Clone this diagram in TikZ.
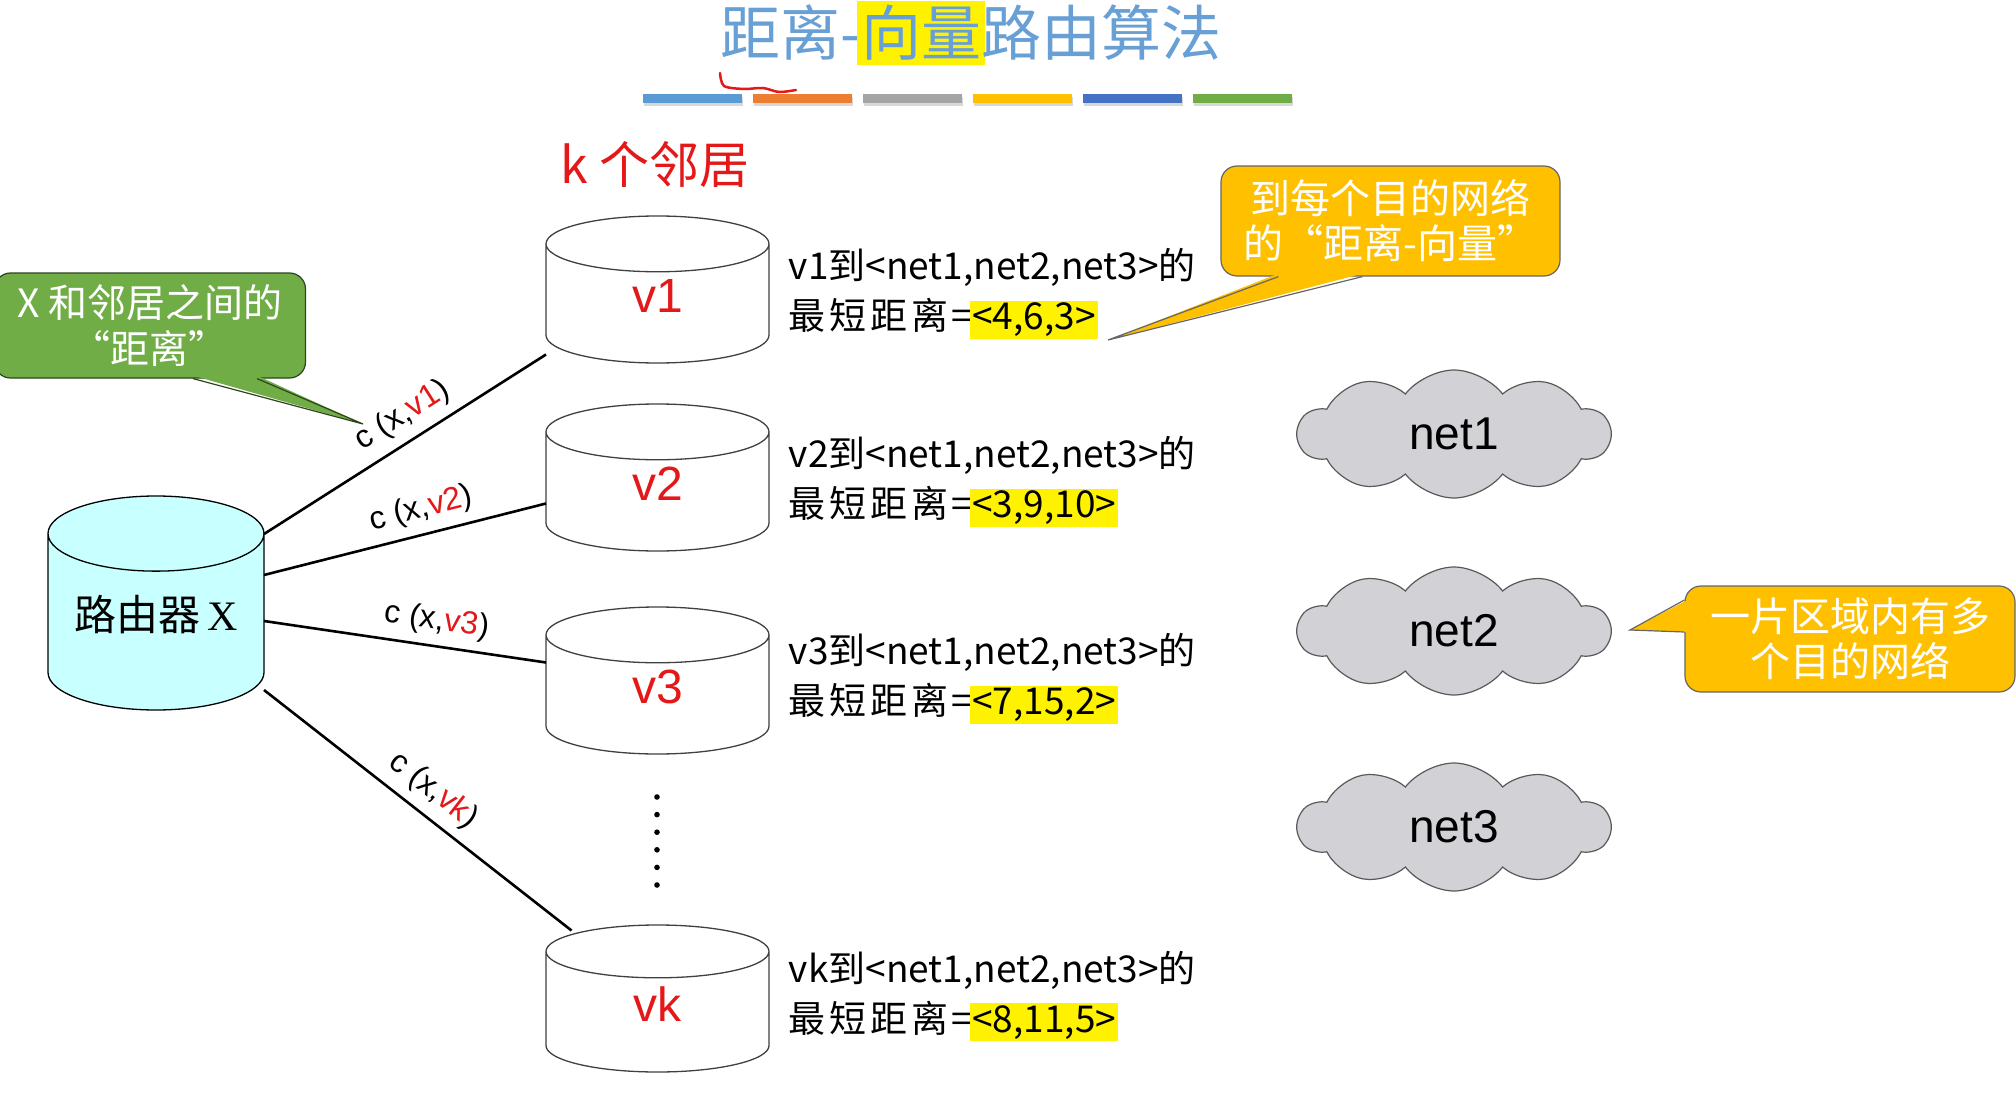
\documentclass[tikz,border=0pt]{standalone}
\usepackage{fontspec}
\setmainfont{Noto Sans CJK SC}
\newfontfamily\arialfont{Liberation Sans}
\newfontfamily\serifx{Liberation Serif}
\usetikzlibrary{positioning,shapes.geometric,shapes.symbols,calc,shadows}

\definecolor{titleblue}{RGB}{104,160,214}
\definecolor{labelred}{RGB}{228,24,24}
\definecolor{notegreen}{RGB}{112,173,71}
\definecolor{notegold}{RGB}{255,192,0}
\definecolor{routercyan}{RGB}{200,255,255}
\definecolor{cloudgray}{RGB}{210,209,214}
\definecolor{barblue}{RGB}{91,155,213}
\definecolor{barorange}{RGB}{237,125,49}
\definecolor{bargray}{RGB}{165,165,165}
\definecolor{bargold}{RGB}{255,192,0}
\definecolor{barnavy}{RGB}{68,114,196}
\definecolor{bargreen}{RGB}{112,173,71}

% yellow marker behind a piece of text
\newcommand{\hl}[2][2pt]{{\setlength{\fboxsep}{#1}\kern-#1\colorbox{yellow}{#2}\kern-#1}}
% link cost label, neighbour name in red
\newcommand{\cost}[1]{c (x,{\color{labelred}#1})}
% lift a cylinder label a little, keeping its size
\newcommand{\up}[1]{\raisebox{8pt}[\height][\depth]{#1}}
% second line of each distance vector
\newcommand{\shortest}{最\kern4pt 短\kern4pt 距\kern4pt 离\kern3pt=}

\begin{document}
\begin{tikzpicture}[x=1pt,y=-1pt,every node/.style={inner sep=0pt},
  link/.style={line width=2.6pt},
  cost/.style={sloped,above=9pt,font=\arialfont\fontsize{32}{36}\selectfont},
  db/.style={cylinder,shape border rotate=90,anchor=shape center,aspect=1.1,draw=black!75,line width=1.3pt,
    minimum width=223pt,minimum height=147pt,fill=white,text=labelred,
    font=\arialfont\fontsize{48}{50}\selectfont},
  routerdb/.style={db,aspect=0.46,draw=black,fill=routercyan,text=black,
    minimum width=216pt,minimum height=214pt,font=\fontsize{42}{46}\selectfont},
  vec/.style={align=left,font=\fontsize{37}{50}\selectfont},
  net/.style={cloud,cloud puffs=10,cloud puff arc=105,cloud ignores aspect,shape border rotate=18,
    draw=black!65,line width=1.2pt,fill=cloudgray,minimum width=312pt,minimum height=128pt,
    font=\arialfont\fontsize{46}{50}\selectfont},
  note/.style={rectangle,rounded corners=16pt,line width=1.2pt,text=white,align=center},
  notetip/.style={line width=1.2pt,line join=miter}]

\fill[white] (0,0) rectangle (2016,1094);
\useasboundingbox (0,0) rectangle (2016,1094);

% heading and colour strip
\node[text=titleblue,font=\fontsize{60}{64}\selectfont] (title) at (971,33) {距离-\hl[4pt]{向量}路由算法};
\foreach \c [count=\i from 0] in {barblue,barorange,bargray,bargold,barnavy,bargreen}
  \fill[\c,drop shadow={opacity=0.3,shadow xshift=1pt,shadow yshift=-3pt}] (643+110*\i,94) rectangle ++(99,9);
\draw[labelred,line width=2.5pt,line cap=round] plot[smooth] coordinates {(720,73) (724,86) (744,89) (763,88) (779,92) (796,90)};

% router and its neighbours
\node[routerdb] (X) at (156,603) {\up{路由器\,{\serifx X}}};
\node[text=labelred,font=\fontsize{50}{52}\selectfont] (knb) at (655,165) {k 个邻居};
\node[db] (v1) at (657.5,289.5) {\up{v1}};
\node[db] (v2) at (657.5,477.5) {\up{v2}};
\node[db] (v3) at (657.5,680.5) {\up{v3}};
\node[db] (vk) at (657.5,998.5) {\up{vk}};
\foreach \i in {0,...,5}
  \fill (657,797+17.6*\i) circle (2.8pt);

% distance vectors of the neighbours
\node[vec,right=19pt of v1,yshift=10pt] (d1) {v1到<net1,net2,net3>的\\\shortest\hl{<4,6,3>}};
\node[vec,right=19pt of v2,yshift=10pt] (d2) {v2到<net1,net2,net3>的\\\shortest\hl{<3,9,10>}};
\node[vec,right=19pt of v3,yshift=16pt] (d3) {v3到<net1,net2,net3>的\\\shortest\hl{<7,15,2>}};
\node[vec,right=19pt of vk,yshift=16pt] (dk) {vk到<net1,net2,net3>的\\\shortest\hl{<8,11,5>}};

% links with their costs
\draw[link] ($(X.shape center)+(108,-69)$) -- node[cost,pos=.54] {\cost{v1}} ($(v1.shape center)+(-111.5,65)$);
\draw[link] ($(X.shape center)+(108,-28)$) -- node[cost,pos=.58] {\cost{v2}} ($(v2.shape center)+(-111.5,26)$);
\draw[link] ($(X.shape center)+(108,18)$) -- node[cost,pos=.6] {\cost{v3}} ($(v3.shape center)+(-111.5,-18)$);
\draw[link] ($(X.shape center)+(108,87)$) -- node[cost,pos=.5] {\cost{vk}} ($(vk.shape center)+(-86,-68)$);

% destination networks
\node[net] (net1) at (1454,434) {net1};
\node[net] (net2) at (1454,631) {net2};
\node[net] (net3) at (1454,827) {net3};

% call-outs
\node[note,draw=black!60!notegreen,fill=notegreen,minimum width=311pt,minimum height=105pt,
  font=\fontsize{39}{46}\selectfont] (distnote) at (150,325.5) {X 和邻居之间的\\“距离”};
\coordinate (distnote tip) at (363,424);
\fill[notegreen] ($(distnote.south)+(43,-3)$) -- (distnote tip) -- ($(distnote.south)+(107,-3)$) -- cycle;
\draw[notetip,draw=black!60!notegreen] ($(distnote.south)+(43,0)$) -- (distnote tip) -- ($(distnote.south)+(107,0)$);

\node[note,draw=black!60,fill=notegold,minimum width=339pt,minimum height=110pt,
  font=\fontsize{40}{45}\selectfont] (vecnote) at (1390.5,221) {到每个目的网络\\的“距离-向量”};
\coordinate (vecnote tip) at (1108,340);
\fill[notegold] ($(vecnote.south)+(-112,-3)$) -- (vecnote tip) -- ($(vecnote.south)+(-28,-3)$) -- cycle;
\draw[notetip,draw=black!60] ($(vecnote.south)+(-112,0)$) -- (vecnote tip) -- ($(vecnote.south)+(-28,0)$);

\node[note,draw=black!60,fill=notegold,minimum width=330pt,minimum height=106pt,
  font=\fontsize{40}{45}\selectfont] (netnote) at (1850,639) {一片区域内有多\\个目的网络};
\coordinate (netnote tip) at (1630,630);
\fill[notegold] ($(netnote.west)+(3,-39)$) -- (netnote tip) -- ($(netnote.west)+(3,-7)$) -- cycle;
\draw[notetip,draw=black!60] ($(netnote.west)+(0,-39)$) -- (netnote tip) -- ($(netnote.west)+(0,-7)$);
\end{tikzpicture}
\end{document}
